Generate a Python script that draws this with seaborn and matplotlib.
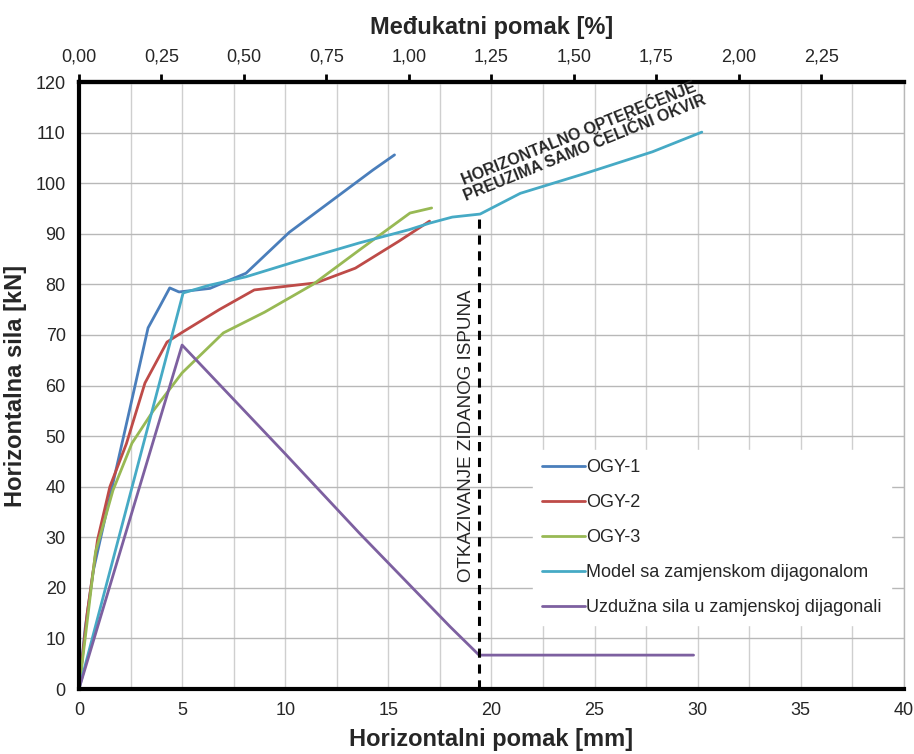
import numpy as np
import pandas as pd
import matplotlib
matplotlib.use("Agg")
import matplotlib.pyplot as plt
import seaborn as sns
from matplotlib.ticker import MultipleLocator, FuncFormatter

# data (mm, kN)
ogy1_x = [0, 0.3, 0.7, 1.5, 2.5, 3.35, 3.9, 4.4, 4.85, 6.35, 8.1, 10.2, 14.25, 15.3]
ogy1_y = [0, 12, 23.5, 38, 56, 71.4, 75.5, 79.3, 78.5, 79.2, 82.2, 90.3, 102.6, 105.6]

ogy2_x = [0, 0.4, 0.9, 1.5, 2.3, 3.2, 4.27, 5.0, 6.8, 8.5, 11.5, 13.4, 15.5, 17.0]
ogy2_y = [0, 15, 29.5, 40, 48.5, 60.5, 68.6, 70.5, 75, 78.9, 80.3, 83.2, 88.5, 92.5]

ogy3_x = [0, 0.3, 0.8, 1.65, 2.57, 3.6, 5.0, 7.0, 9.0, 11.35, 13.6, 16.05, 17.1]
ogy3_y = [0, 10, 27, 39.3, 48.6, 55, 62.5, 70.4, 74.5, 80, 86.8, 94.1, 95.1]

model_x = [0, 5.05, 6.3, 8.1, 10.5, 13.6, 16.0, 17.0, 18.1, 19.45, 21.4, 24.6, 27.8, 30.2]
model_y = [0, 78.3, 79.8, 81.5, 84.5, 88.2, 90.8, 92.1, 93.3, 93.9, 98, 102, 106.2, 110.1]

diag_x = [0, 5.0, 10.0, 13.6, 18.0, 19.4, 29.8]
diag_y = [0, 68, 46.5, 30.8, 12.3, 6.7, 6.7]

failure_x = 19.4
failure_y = 93.9

series = [
    ("OGY-1", ogy1_x, ogy1_y, "#4A7EBB"),
    ("OGY-2", ogy2_x, ogy2_y, "#BE4B48"),
    ("OGY-3", ogy3_x, ogy3_y, "#98B954"),
    ("Model sa zamjenskom dijagonalom", model_x, model_y, "#46AAC5"),
    ("Uzdužna sila u zamjenskoj dijagonali", diag_x, diag_y, "#7D60A0"),
]

sns.set_style("white")
plt.rcParams['font.family'] = ['Liberation Sans', 'DejaVu Sans']

fig = plt.figure(figsize=(9.14, 7.54), dpi=100)
ax = fig.add_axes([0.0864, 0.0862, 0.9026, 0.8050])

for name, xs, ys, col in series:
    sns.lineplot(x=xs, y=ys, sort=False, estimator=None, color=col,
                 linewidth=2.0, label=name, ax=ax)

# failure line of the infill
ax.plot([failure_x, failure_x], [0, failure_y], color="black",
        linestyle=(0, (3, 2.2)), linewidth=2.2, zorder=4)

ax.set_xlim(0, 40)
ax.set_ylim(0, 120)
ax.xaxis.set_major_locator(MultipleLocator(5))
ax.xaxis.set_minor_locator(MultipleLocator(2.5))
ax.yaxis.set_major_locator(MultipleLocator(10))
ax.grid(which="both", axis="x", color="#cfcfcf", linewidth=1.0)
ax.grid(which="major", axis="y", color="#b8b8b8", linewidth=1.0)
ax.set_axisbelow(True)
ax.tick_params(axis="both", which="major", direction="out", length=6, width=2,
               labelsize=13, color="black")
ax.tick_params(axis="x", which="minor", length=0)

for side in ["left", "bottom", "top"]:
    ax.spines[side].set_visible(True)
    ax.spines[side].set_linewidth(3)
    ax.spines[side].set_color("black")
ax.spines["right"].set_color("#b8b8b8")
ax.spines["right"].set_linewidth(1)

ax.set_xlabel("Horizontalni pomak [mm]", fontsize=17, fontweight="bold", labelpad=6)
ax.set_ylabel("Horizontalna sila [kN]", fontsize=17, fontweight="bold", labelpad=6)

# top axis: inter-storey drift in %
top = ax.secondary_xaxis("top", functions=(lambda v: v / 16.0, lambda v: v * 16.0))
top.set_xticks(np.arange(0, 2.26, 0.25))
top.xaxis.set_major_formatter(FuncFormatter(lambda v, p: f"{v:.2f}".replace(".", ",")))
top.tick_params(direction="out", length=6, width=2, labelsize=13, color="black", pad=6)
top.spines["top"].set_linewidth(3)
top.spines["top"].set_color("black")
top.set_xlabel("Međukatni pomak [%]", fontsize=17, fontweight="bold", labelpad=10)

ax.text(18.8, 50, "OTKAZIVANJE ZIDANOG ISPUNA", rotation=90, ha="center",
        va="center", fontsize=13.5)
ax.text(24.4, 108.3, "HORIZONTALNO OPTEREĆENJE\nPREUZIMA SAMO ČELIČNI OKVIR",
        rotation=22, ha="center", va="center", fontsize=11.5, fontweight="bold",
        linespacing=1.05, rotation_mode="anchor")

leg = ax.legend(loc="lower right", bbox_to_anchor=(0.995, 0.09), frameon=True,
                handlelength=2.4, handletextpad=0.05,
                labelspacing=1.0, borderpad=0.5, fancybox=False,
                prop={'family': ['Liberation Sans', 'DejaVu Sans'], 'size': 13})
leg.get_frame().set_edgecolor("white")
leg.get_frame().set_facecolor("white")
leg.get_frame().set_alpha(1)

plt.savefig("out.png", dpi=100)
